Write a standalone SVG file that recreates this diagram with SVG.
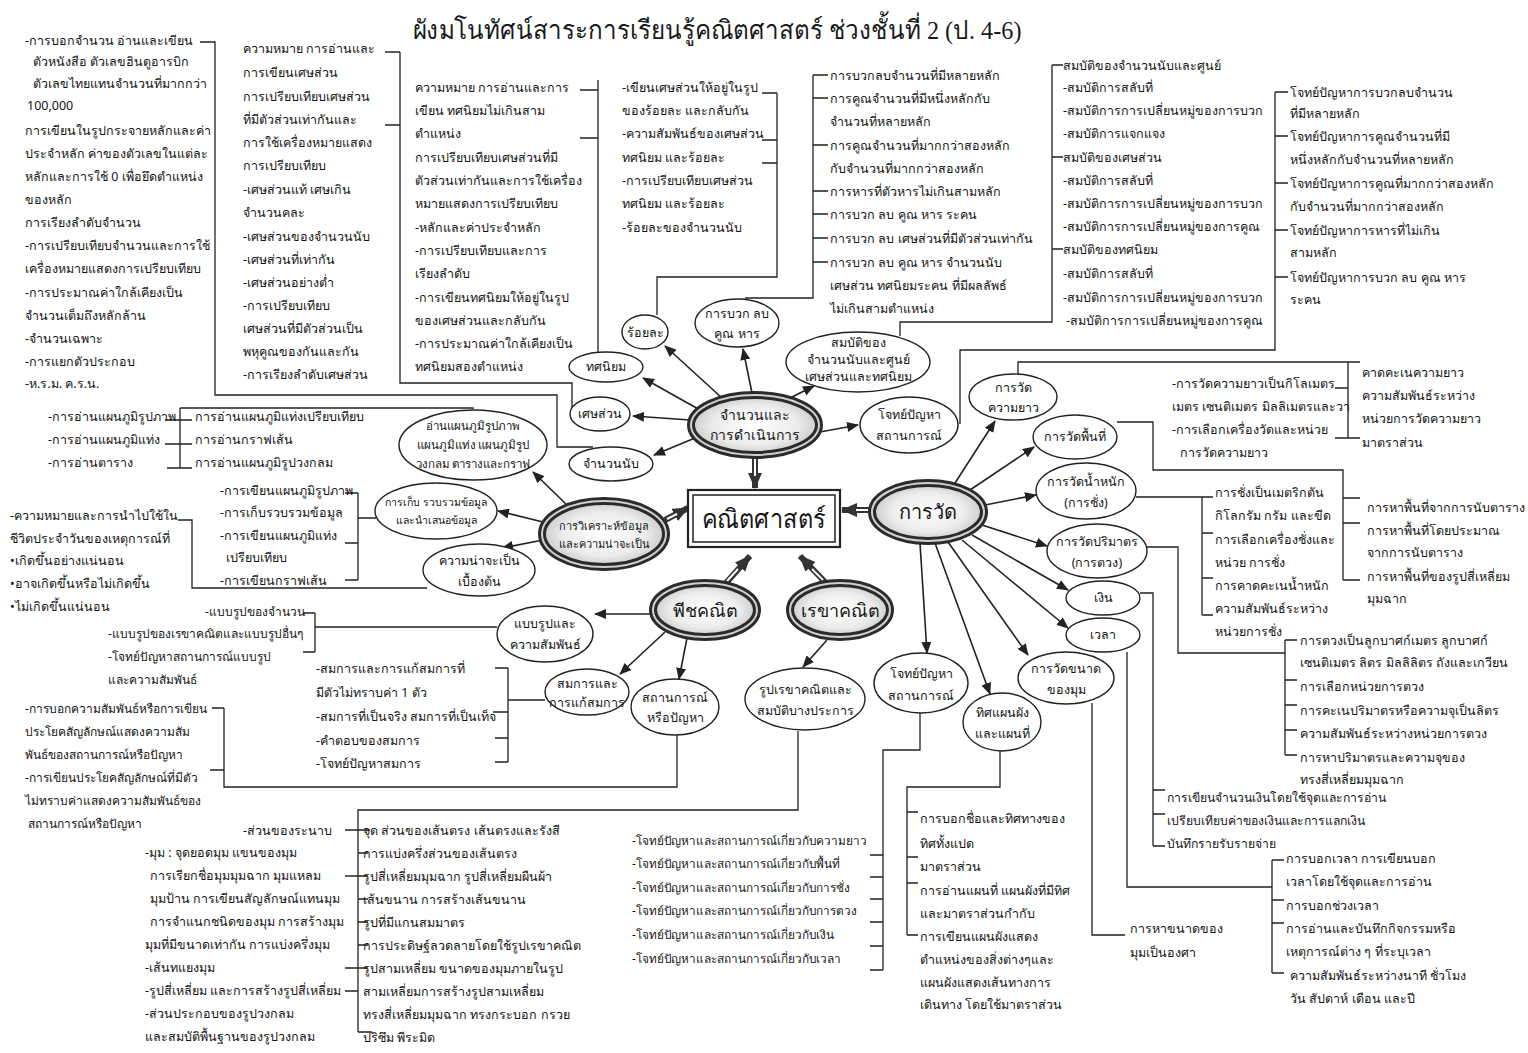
<svg xmlns="http://www.w3.org/2000/svg" width="1528" height="1053" viewBox="0 0 1528 1053">
<defs>
<style>
.t{font-family:"Noto Sans","DejaVu Sans",sans-serif;font-size:12.5px;fill:#161616}
.c{text-anchor:middle}
.ttl{font-family:"Liberation Serif","DejaVu Serif",serif;font-size:26px;fill:#1a1a1a;text-anchor:middle}
.ln{fill:none;stroke:#222;stroke-width:1.3}
.ar{fill:none;stroke:#222;stroke-width:1.6;marker-end:url(#ah)}
.el{fill:#fff;stroke:#222;stroke-width:1.4}
.mo{fill:url(#mg);stroke:#2b2b2b;stroke-width:8}
.mi{fill:none;stroke:#d0d0d0;stroke-width:2}
.dbo{fill:none;stroke:#333;stroke-width:6;marker-end:url(#bh)}
.dbi{fill:none;stroke:#fff;stroke-width:2}
</style>
<radialGradient id="mg" cx="0.5" cy="0.5" r="0.6">
<stop offset="0" stop-color="#ffffff"/><stop offset="0.55" stop-color="#ececec"/><stop offset="1" stop-color="#b8b8b8"/>
</radialGradient>
<marker id="ah" viewBox="0 0 12 10" refX="11" refY="5" markerWidth="12" markerHeight="10" markerUnits="userSpaceOnUse" orient="auto"><path d="M0,0 L12,5 L0,10 z" fill="#222"/></marker>
<marker id="bh" viewBox="0 0 16 14" refX="15" refY="7" markerWidth="16" markerHeight="14" markerUnits="userSpaceOnUse" orient="auto"><path d="M0,0 L16,7 L0,14 z" fill="#333"/></marker>
</defs>
<rect width="1528" height="1053" fill="#fff"/>
<text class="ttl" x="717" y="39" textLength="609" lengthAdjust="spacingAndGlyphs">ผังมโนทัศน์สาระการเรียนรู้คณิตศาสตร์ ช่วงชั้นที่ 2 (ป. 4-6)</text>

<g id="connectors">
<path class="ln" d="M200,42 H215 V395 H557 V447 H593"/>
<path class="ln" d="M385,52 H400 M385,125 H400 M400,52 V383 H572 V408"/>
<path class="ln" d="M580,90 H598 M580,138 H598 M598,80 V352"/>
<path class="ln" d="M762,93 H777 M762,140 H777 M762,163 H777 M777,93 V277 H657 V315"/>
<path class="ln" d="M813,75 V298 H745 M813,75 H828 M813,98 H828 M813,145 H828 M813,191 H828 M813,214 H828 M813,238 H828 M813,262 H828"/>
<path class="ln" d="M1052,65 H1063 M1052,157 H1063 M1052,249 H1063 M1052,65 V322 H900 V336"/>
<path class="ln" d="M1275,92 H1288 M1275,136 H1288 M1275,183 H1288 M1275,230 H1288 M1275,277 H1288 M1275,92 V350 H960 V424"/>
<path class="ln" d="M165,420 H192 M165,444 H192 M167,468 H192 M180,408 V468 M180,408 H473 V409"/>
<path class="ln" d="M345,493 H358 M345,543 H358 M345,580 H358 M358,493 V580 M358,518 H376"/>
<path class="ln" d="M178,520 H192 V588 H427"/>
<path class="ln" d="M303,613 H315 M303,652 H315 M315,613 V652 M315,627 H497"/>
<path class="ln" d="M495,668 H508 M493,712 H508 M495,738 H508 M495,762 H508 M508,668 V762 M508,700 H545"/>
<path class="ln" d="M212,708 H224 M210,770 H224 M224,708 V787 H677 V735"/>
<path class="ln" d="M345,830 H370 M358,853 H368 M345,876 H368 M358,899 H368 M358,922 H368 M358,945 H368 M345,968 H368 M345,991 H358 M358,1032 H372 M358,1032 V810 H798 V731"/>
<path class="ln" d="M870,855 H883 M870,877 H883 M870,899 H883 M870,922 H883 M870,946 H883 M870,970 H883 M883,970 V750 H920 V713"/>
<path class="ln" d="M907,935 V787 H1000 V751 M907,812 H918 M907,857 H918 M907,883 H918 M907,935 H918"/>
<path class="ln" d="M1092,703 V935 H1125"/>
<path class="ln" d="M1140,593 H1153 V846 M1153,790 H1165 M1153,814 H1165 M1153,846 H1165"/>
<path class="ln" d="M1127,652 V887 H1272 M1272,860 V973 M1272,860 H1284 M1272,900 H1284 M1272,923 H1284 M1272,973 H1284"/>
<path class="ln" d="M1146,547 H1178 V653 H1285 M1285,640 V755 M1285,640 H1297 M1285,680 H1297 M1285,705 H1297 M1285,730 H1297 M1285,755 H1297"/>
<path class="ln" d="M1136,497 H1213 M1202,497 V615 M1202,533 H1213 M1202,578 H1213 M1202,615 H1213"/>
<path class="ln" d="M1117,422 H1153 V470 H1343 V580 M1343,498 H1360 M1343,523 H1360 M1343,580 H1360"/>
<path class="ln" d="M1018,375 V362 H1360 M1348,362 V438 M1335,388 H1348 M1335,438 H1360"/>

<path class="ar" d="M722,398 L665,346"/>
<path class="ar" d="M752,393 L743,349"/>
<path class="ar" d="M700,410 L643,378"/>
<path class="ar" d="M690,420 L633,416"/>
<path class="ar" d="M695,438 L654,455"/>
<path class="ar" d="M790,398 L814,386"/>
<path class="ar" d="M820,432 L858,425"/>
<path class="ar" d="M955,483 L995,421"/>
<path class="ar" d="M970,490 L1034,447"/>
<path class="ar" d="M985,505 L1036,495"/>
<path class="ar" d="M982,525 L1047,546"/>
<path class="ar" d="M972,535 L1068,590"/>
<path class="ar" d="M962,540 L1068,628"/>
<path class="ar" d="M948,542 L1028,655"/>
<path class="ar" d="M935,543 L990,694"/>
<path class="ar" d="M920,543 L927,653"/>
<path class="ar" d="M567,505 L533,472"/>
<path class="ar" d="M543,522 L498,511"/>
<path class="ar" d="M543,540 L502,548"/>
<path class="ar" d="M650,614 L595,614"/>
<path class="ar" d="M665,632 L620,674"/>
<path class="ar" d="M687,638 L679,679"/>
<path class="ar" d="M827,640 L803,667"/>

<path class="dbo" d="M755,457 V488"/><path class="dbi" d="M755,459 V476"/>
<path class="dbo" d="M870,510 H842"/><path class="dbi" d="M868,510 H856"/>
<path class="dbo" d="M665,520 L688,508"/><path class="dbi" d="M667,519 L677,514"/>
<path class="dbo" d="M726,583 L750,556"/><path class="dbi" d="M727,581 L738,569"/>
<path class="dbo" d="M825,582 L800,556"/><path class="dbi" d="M823,580 L812,569"/>
</g>

<g id="center">
<rect x="688" y="490" width="152" height="57" fill="#fff" stroke="#222" stroke-width="2.2"/>
<rect x="693" y="495" width="142" height="47" fill="#fff" stroke="#222" stroke-width="1.5"/>
<text class="t c" x="764" y="528" style="font-size:26px" textLength="124" lengthAdjust="spacingAndGlyphs">คณิตศาสตร์</text>
</g>

<g id="main-number"><ellipse class="mo" cx="755" cy="425" rx="64" ry="30"/><ellipse class="mi" cx="755" cy="425" rx="64" ry="30"/>
<text class="t c" x="755" y="420" style="font-size:14px">จำนวนและ</text><text class="t c" x="755" y="440" style="font-size:14px">การดำเนินการ</text></g>
<g id="main-measure"><ellipse class="mo" cx="928" cy="512" rx="56" ry="29"/><ellipse class="mi" cx="928" cy="512" rx="56" ry="29"/>
<text class="t c" x="928" y="519" style="font-size:20px">การวัด</text></g>
<g id="main-data"><ellipse class="mo" cx="604" cy="534" rx="62" ry="33"/><ellipse class="mi" cx="604" cy="534" rx="62" ry="33"/>
<text class="t c" x="604" y="530" style="font-size:11px">การวิเคราะห์ข้อมูล</text><text class="t c" x="604" y="548" style="font-size:11px">และความน่าจะเป็น</text></g>
<g id="main-algebra"><ellipse class="mo" cx="705" cy="610" rx="52" ry="27"/><ellipse class="mi" cx="705" cy="610" rx="52" ry="27"/>
<text class="t c" x="705" y="617" style="font-size:18px">พีชคณิต</text></g>
<g id="main-geometry"><ellipse class="mo" cx="840" cy="610" rx="50" ry="27"/><ellipse class="mi" cx="840" cy="610" rx="50" ry="27"/>
<text class="t c" x="840" y="617" style="font-size:18px">เรขาคณิต</text></g>

<g id="n-percent"><ellipse class="el" cx="645" cy="332" rx="23" ry="17"/><text class="t c" x="645" y="337">ร้อยละ</text></g>
<g id="n-ops"><ellipse class="el" cx="737" cy="323" rx="42" ry="24"/><text class="t c" x="737" y="318">การบวก ลบ</text><text class="t c" x="737" y="338">คูณ หาร</text></g>
<g id="n-decimal"><ellipse class="el" cx="606" cy="367" rx="37" ry="15"/><text class="t c" x="606" y="371">ทศนิยม</text></g>
<g id="n-fraction"><ellipse class="el" cx="600" cy="414" rx="30" ry="17"/><text class="t c" x="600" y="418">เศษส่วน</text></g>
<g id="n-counting"><ellipse class="el" cx="611" cy="464" rx="42" ry="17"/><text class="t c" x="611" y="468">จำนวนนับ</text></g>
<g id="n-properties"><ellipse class="el" cx="858" cy="362" rx="72" ry="30"/><text class="t c" x="858" y="347">สมบัติของ</text><text class="t c" x="858" y="364">จำนวนนับและศูนย์</text><text class="t c" x="858" y="381">เศษส่วนและทศนิยม</text></g>
<g id="n-problem1"><ellipse class="el" cx="909" cy="425" rx="49" ry="28"/><text class="t c" x="909" y="419">โจทย์ปัญหา</text><text class="t c" x="909" y="440">สถานการณ์</text></g>
<g id="n-chart"><ellipse class="el" cx="473" cy="445" rx="74" ry="35"/><text class="t c" x="473" y="430" style="font-size:11.5px">อ่านแผนภูมิรูปภาพ</text><text class="t c" x="473" y="449" style="font-size:11.5px">แผนภูมิแท่ง แผนภูมิรูป</text><text class="t c" x="473" y="468" style="font-size:11.5px">วงกลม ตารางและกราฟ</text></g>
<g id="n-collect"><ellipse class="el" cx="436" cy="511" rx="61" ry="28"/><text class="t c" x="436" y="506" style="font-size:10.5px">การเก็บ รวบรวมข้อมูล</text><text class="t c" x="436" y="524" style="font-size:10.5px">และนำเสนอข้อมูล</text></g>
<g id="n-prob"><ellipse class="el" cx="479" cy="570" rx="56" ry="26"/><text class="t c" x="479" y="565">ความน่าจะเป็น</text><text class="t c" x="479" y="586">เบื้องต้น</text></g>
<g id="n-pattern"><ellipse class="el" cx="545" cy="634" rx="48" ry="28"/><text class="t c" x="545" y="628">แบบรูปและ</text><text class="t c" x="545" y="649">ความสัมพันธ์</text></g>
<g id="n-equation"><ellipse class="el" cx="587" cy="692" rx="42" ry="23"/><text class="t c" x="587" y="688">สมการและ</text><text class="t c" x="587" y="707">การแก้สมการ</text></g>
<g id="n-situation"><ellipse class="el" cx="675" cy="707" rx="44" ry="28"/><text class="t c" x="675" y="702">สถานการณ์</text><text class="t c" x="675" y="722">หรือปัญหา</text></g>
<g id="n-shapes"><ellipse class="el" cx="805" cy="699" rx="60" ry="31"/><text class="t c" x="805" y="694">รูปเรขาคณิตและ</text><text class="t c" x="805" y="715">สมบัติบางประการ</text></g>
<g id="n-length"><ellipse class="el" cx="1013" cy="397" rx="44" ry="23"/><text class="t c" x="1013" y="392">การวัด</text><text class="t c" x="1013" y="412">ความยาว</text></g>
<g id="n-area"><ellipse class="el" cx="1075" cy="437" rx="42" ry="22"/><text class="t c" x="1075" y="441">การวัดพื้นที่</text></g>
<g id="n-weight"><ellipse class="el" cx="1086" cy="491" rx="50" ry="28"/><text class="t c" x="1086" y="486">การวัดน้ำหนัก</text><text class="t c" x="1086" y="507">(การชั่ง)</text></g>
<g id="n-volume"><ellipse class="el" cx="1097" cy="551" rx="50" ry="27"/><text class="t c" x="1097" y="546">การวัดปริมาตร</text><text class="t c" x="1097" y="567">(การตวง)</text></g>
<g id="n-money"><ellipse class="el" cx="1103" cy="598" rx="37" ry="17"/><text class="t c" x="1103" y="602">เงิน</text></g>
<g id="n-time"><ellipse class="el" cx="1103" cy="635" rx="37" ry="17"/><text class="t c" x="1103" y="639">เวลา</text></g>
<g id="n-angle"><ellipse class="el" cx="1066" cy="678" rx="48" ry="26"/><text class="t c" x="1066" y="673">การวัดขนาด</text><text class="t c" x="1066" y="694">ของมุม</text></g>
<g id="n-problem2"><ellipse class="el" cx="921" cy="683" rx="47" ry="30"/><text class="t c" x="921" y="678">โจทย์ปัญหา</text><text class="t c" x="921" y="700">สถานการณ์</text></g>
<g id="n-map"><ellipse class="el" cx="1002" cy="722" rx="39" ry="29"/><text class="t c" x="1002" y="717">ทิศแผนผัง</text><text class="t c" x="1002" y="738">และแผนที่</text></g>

<g id="b1"><text class="t">
<tspan x="25" y="45">-การบอกจำนวน อ่านและเขียน</tspan>
<tspan x="33" y="66">ตัวหนังสือ ตัวเลขฮินดูอารบิก</tspan>
<tspan x="33" y="88">ตัวเลขไทยแทนจำนวนที่มากกว่า</tspan>
<tspan x="27" y="110">100,000</tspan>
<tspan x="25" y="135">การเขียนในรูปกระจายหลักและค่า</tspan>
<tspan x="25" y="158">ประจำหลัก ค่าของตัวเลขในแต่ละ</tspan>
<tspan x="25" y="181">หลักและการใช้ 0 เพื่อยึดตำแหน่ง</tspan>
<tspan x="25" y="204">ของหลัก</tspan>
<tspan x="25" y="227">การเรียงลำดับจำนวน</tspan>
<tspan x="25" y="250">-การเปรียบเทียบจำนวนและการใช้</tspan>
<tspan x="25" y="273">เครื่องหมายแสดงการเปรียบเทียบ</tspan>
<tspan x="25" y="297">-การประมาณค่าใกล้เคียงเป็น</tspan>
<tspan x="25" y="320">จำนวนเต็มถึงหลักล้าน</tspan>
<tspan x="25" y="343">-จำนวนเฉพาะ</tspan>
<tspan x="25" y="366">-การแยกตัวประกอบ</tspan>
<tspan x="25" y="388">-ห.ร.ม. ค.ร.น.</tspan>
</text></g>

<g id="b2"><text class="t">
<tspan x="243" y="53">ความหมาย การอ่านและ</tspan>
<tspan x="243" y="77">การเขียนเศษส่วน</tspan>
<tspan x="243" y="101">การเปรียบเทียบเศษส่วน</tspan>
<tspan x="243" y="124">ที่มีตัวส่วนเท่ากันและ</tspan>
<tspan x="243" y="147">การใช้เครื่องหมายแสดง</tspan>
<tspan x="243" y="170">การเปรียบเทียบ</tspan>
<tspan x="243" y="194">-เศษส่วนแท้ เศษเกิน</tspan>
<tspan x="243" y="217">จำนวนคละ</tspan>
<tspan x="243" y="241">-เศษส่วนของจำนวนนับ</tspan>
<tspan x="243" y="264">-เศษส่วนที่เท่ากัน</tspan>
<tspan x="243" y="287">-เศษส่วนอย่างต่ำ</tspan>
<tspan x="243" y="310">-การเปรียบเทียบ</tspan>
<tspan x="243" y="333">เศษส่วนที่มีตัวส่วนเป็น</tspan>
<tspan x="243" y="356">พหุคูณของกันและกัน</tspan>
<tspan x="243" y="379">-การเรียงลำดับเศษส่วน</tspan>
</text></g>

<g id="b3"><text class="t">
<tspan x="415" y="92">ความหมาย การอ่านและการ</tspan>
<tspan x="415" y="115">เขียน ทศนิยมไม่เกินสาม</tspan>
<tspan x="415" y="138">ตำแหน่ง</tspan>
<tspan x="415" y="162">การเปรียบเทียบเศษส่วนที่มี</tspan>
<tspan x="415" y="185">ตัวส่วนเท่ากันและการใช้เครื่อง</tspan>
<tspan x="415" y="208">หมายแสดงการเปรียบเทียบ</tspan>
<tspan x="415" y="232">-หลักและค่าประจำหลัก</tspan>
<tspan x="415" y="255">-การเปรียบเทียบและการ</tspan>
<tspan x="415" y="278">เรียงลำดับ</tspan>
<tspan x="415" y="302">-การเขียนทศนิยมให้อยู่ในรูป</tspan>
<tspan x="415" y="325">ของเศษส่วนและกลับกัน</tspan>
<tspan x="415" y="348">-การประมาณค่าใกล้เคียงเป็น</tspan>
<tspan x="415" y="371">ทศนิยมสองตำแหน่ง</tspan>
</text></g>

<g id="b4"><text class="t">
<tspan x="622" y="92">-เขียนเศษส่วนให้อยู่ในรูป</tspan>
<tspan x="622" y="115">ของร้อยละ และกลับกัน</tspan>
<tspan x="622" y="138">-ความสัมพันธ์ของเศษส่วน</tspan>
<tspan x="622" y="162">ทศนิยม และร้อยละ</tspan>
<tspan x="622" y="185">-การเปรียบเทียบเศษส่วน</tspan>
<tspan x="622" y="208">ทศนิยม และร้อยละ</tspan>
<tspan x="622" y="232">-ร้อยละของจำนวนนับ</tspan>
</text></g>

<g id="b5"><text class="t">
<tspan x="830" y="80">การบวกลบจำนวนที่มีหลายหลัก</tspan>
<tspan x="830" y="103">การคูณจำนวนที่มีหนึ่งหลักกับ</tspan>
<tspan x="830" y="126">จำนวนที่หลายหลัก</tspan>
<tspan x="830" y="150">การคูณจำนวนที่มากกว่าสองหลัก</tspan>
<tspan x="830" y="173">กับจำนวนที่มากกว่าสองหลัก</tspan>
<tspan x="830" y="196">การหารที่ตัวหารไม่เกินสามหลัก</tspan>
<tspan x="830" y="219">การบวก ลบ คูณ หาร ระคน</tspan>
<tspan x="830" y="243">การบวก ลบ เศษส่วนที่มีตัวส่วนเท่ากัน</tspan>
<tspan x="830" y="267">การบวก ลบ คูณ หาร จำนวนนับ</tspan>
<tspan x="830" y="290">เศษส่วน ทศนิยมระคน ที่มีผลลัพธ์</tspan>
<tspan x="830" y="313">ไม่เกินสามตำแหน่ง</tspan>
</text></g>

<g id="b6"><text class="t">
<tspan x="1063" y="70">สมบัติของจำนวนนับและศูนย์</tspan>
<tspan x="1063" y="92">-สมบัติการสลับที่</tspan>
<tspan x="1063" y="115">-สมบัติการการเปลี่ยนหมู่ของการบวก</tspan>
<tspan x="1063" y="138">-สมบัติการแจกแจง</tspan>
<tspan x="1063" y="162">สมบัติของเศษส่วน</tspan>
<tspan x="1063" y="185">-สมบัติการสลับที่</tspan>
<tspan x="1063" y="208">-สมบัติการการเปลี่ยนหมู่ของการบวก</tspan>
<tspan x="1063" y="231">-สมบัติการการเปลี่ยนหมู่ของการคูณ</tspan>
<tspan x="1063" y="254">สมบัติของทศนิยม</tspan>
<tspan x="1063" y="278">-สมบัติการสลับที่</tspan>
<tspan x="1063" y="302">-สมบัติการการเปลี่ยนหมู่ของการบวก</tspan>
<tspan x="1066" y="325">-สมบัติการการเปลี่ยนหมู่ของการคูณ</tspan>
</text></g>

<g id="b7"><text class="t">
<tspan x="1290" y="97">โจทย์ปัญหาการบวกลบจำนวน</tspan>
<tspan x="1290" y="118">ที่มีหลายหลัก</tspan>
<tspan x="1290" y="141">โจทย์ปัญหาการคูณจำนวนที่มี</tspan>
<tspan x="1290" y="164">หนึ่งหลักกับจำนวนที่หลายหลัก</tspan>
<tspan x="1290" y="188">โจทย์ปัญหาการคูณที่มากกว่าสองหลัก</tspan>
<tspan x="1290" y="211">กับจำนวนที่มากกว่าสองหลัก</tspan>
<tspan x="1290" y="235">โจทย์ปัญหาการหารที่ไม่เกิน</tspan>
<tspan x="1290" y="257">สามหลัก</tspan>
<tspan x="1290" y="282">โจทย์ปัญหาการบวก ลบ คูณ หาร</tspan>
<tspan x="1290" y="304">ระคน</tspan>
</text></g>

<g id="b8"><text class="t">
<tspan x="48" y="421">-การอ่านแผนภูมิรูปภาพ</tspan>
<tspan x="48" y="444">-การอ่านแผนภูมิแท่ง</tspan>
<tspan x="48" y="467">-การอ่านตาราง</tspan>
<tspan x="195" y="421">การอ่านแผนภูมิแท่งเปรียบเทียบ</tspan>
<tspan x="195" y="444">การอ่านกราฟเส้น</tspan>
<tspan x="195" y="467">การอ่านแผนภูมิรูปวงกลม</tspan>
</text></g>

<g id="b9"><text class="t">
<tspan x="220" y="495">-การเขียนแผนภูมิรูปภาพ</tspan>
<tspan x="220" y="517">-การเก็บรวบรวมข้อมูล</tspan>
<tspan x="220" y="540">-การเขียนแผนภูมิแท่ง</tspan>
<tspan x="226" y="562">เปรียบเทียบ</tspan>
<tspan x="220" y="585">-การเขียนกราฟเส้น</tspan>
</text></g>

<g id="b10"><text class="t">
<tspan x="10" y="520">-ความหมายและการนำไปใช้ใน</tspan>
<tspan x="10" y="543">ชีวิตประจำวันของเหตุการณ์ที่</tspan>
<tspan x="10" y="565">•เกิดขึ้นอย่างแน่นอน</tspan>
<tspan x="10" y="588">•อาจเกิดขึ้นหรือไม่เกิดขึ้น</tspan>
<tspan x="10" y="611">•ไม่เกิดขึ้นแน่นอน</tspan>
</text></g>

<g id="b11"><text class="t" style="font-size:12px">
<tspan x="205" y="616">-แบบรูปของจำนวน</tspan>
<tspan x="108" y="638">-แบบรูปของเรขาคณิตและแบบรูปอื่นๆ</tspan>
<tspan x="108" y="661">-โจทย์ปัญหาสถานการณ์แบบรูป</tspan>
<tspan x="108" y="684">และความสัมพันธ์</tspan>
</text></g>

<g id="b12"><text class="t">
<tspan x="316" y="673">-สมการและการแก้สมการที่</tspan>
<tspan x="316" y="697">มีตัวไม่ทราบค่า 1 ตัว</tspan>
<tspan x="316" y="721">-สมการที่เป็นจริง สมการที่เป็นเท็จ</tspan>
<tspan x="316" y="745">-คำตอบของสมการ</tspan>
<tspan x="316" y="768">-โจทย์ปัญหาสมการ</tspan>
</text></g>

<g id="b13"><text class="t" style="font-size:12px">
<tspan x="25" y="713">-การบอกความสัมพันธ์หรือการเขียน</tspan>
<tspan x="25" y="736">ประโยคสัญลักษณ์แสดงความสัม</tspan>
<tspan x="25" y="759">พันธ์ของสถานการณ์หรือปัญหา</tspan>
<tspan x="25" y="782">-การเขียนประโยคสัญลักษณ์ที่มีตัว</tspan>
<tspan x="25" y="805">ไม่ทราบค่าแสดงความสัมพันธ์ของ</tspan>
<tspan x="28" y="828">สถานการณ์หรือปัญหา</tspan>
</text></g>

<g id="b14"><text class="t">
<tspan x="243" y="835">-ส่วนของระนาบ</tspan>
<tspan x="145" y="857">-มุม : จุดยอดมุม แขนของมุม</tspan>
<tspan x="150" y="880">การเรียกชื่อมุมมุมฉาก มุมแหลม</tspan>
<tspan x="150" y="903">มุมป้าน การเขียนสัญลักษณ์แทนมุม</tspan>
<tspan x="150" y="926">การจำแนกชนิดของมุม การสร้างมุม</tspan>
<tspan x="145" y="949">มุมที่มีขนาดเท่ากัน การแบ่งครึ่งมุม</tspan>
<tspan x="145" y="972">-เส้นทแยงมุม</tspan>
<tspan x="145" y="995">-รูปสี่เหลี่ยม และการสร้างรูปสี่เหลี่ยม</tspan>
<tspan x="145" y="1018">-ส่วนประกอบของรูปวงกลม</tspan>
<tspan x="145" y="1041">และสมบัติพื้นฐานของรูปวงกลม</tspan>
</text></g>

<g id="b15"><text class="t">
<tspan x="363" y="835">จุด ส่วนของเส้นตรง เส้นตรงและรังสี</tspan>
<tspan x="363" y="858">การแบ่งครึ่งส่วนของเส้นตรง</tspan>
<tspan x="363" y="881">รูปสี่เหลี่ยมมุมฉาก รูปสี่เหลี่ยมผืนผ้า</tspan>
<tspan x="363" y="904">เส้นขนาน การสร้างเส้นขนาน</tspan>
<tspan x="363" y="927">รูปที่มีแกนสมมาตร</tspan>
<tspan x="363" y="950">การประดิษฐ์ลวดลายโดยใช้รูปเรขาคณิต</tspan>
<tspan x="363" y="973">รูปสามเหลี่ยม ขนาดของมุมภายในรูป</tspan>
<tspan x="363" y="996">สามเหลี่ยมการสร้างรูปสามเหลี่ยม</tspan>
<tspan x="363" y="1019">ทรงสี่เหลี่ยมมุมฉาก ทรงกระบอก กรวย</tspan>
<tspan x="363" y="1042">ปริซึม พีระมิด</tspan>
</text></g>

<g id="b16"><text class="t" style="font-size:11.8px">
<tspan x="632" y="845">-โจทย์ปัญหาและสถานการณ์เกี่ยวกับความยาว</tspan>
<tspan x="632" y="868">-โจทย์ปัญหาและสถานการณ์เกี่ยวกับพื้นที่</tspan>
<tspan x="632" y="892">-โจทย์ปัญหาและสถานการณ์เกี่ยวกับการชั่ง</tspan>
<tspan x="632" y="915">-โจทย์ปัญหาและสถานการณ์เกี่ยวกับการตวง</tspan>
<tspan x="632" y="939">-โจทย์ปัญหาและสถานการณ์เกี่ยวกับเงิน</tspan>
<tspan x="632" y="963">-โจทย์ปัญหาและสถานการณ์เกี่ยวกับเวลา</tspan>
</text></g>

<g id="b17"><text class="t">
<tspan x="920" y="823">การบอกชื่อและทิศทางของ</tspan>
<tspan x="920" y="848">ทิศทั้งแปด</tspan>
<tspan x="920" y="871">มาตราส่วน</tspan>
<tspan x="920" y="895">การอ่านแผนที่ แผนผังที่มีทิศ</tspan>
<tspan x="920" y="918">และมาตราส่วนกำกับ</tspan>
<tspan x="920" y="941">การเขียนแผนผังแสดง</tspan>
<tspan x="920" y="964">ตำแหน่งของสิ่งต่างๆและ</tspan>
<tspan x="920" y="987">แผนผังแสดงเส้นทางการ</tspan>
<tspan x="920" y="1009">เดินทาง โดยใช้มาตราส่วน</tspan>
</text></g>

<g id="b18"><text class="t">
<tspan x="1130" y="933">การหาขนาดของ</tspan>
<tspan x="1130" y="957">มุมเป็นองศา</tspan>
</text></g>

<g id="b19"><text class="t" style="font-size:12.2px">
<tspan x="1167" y="802">การเขียนจำนวนเงินโดยใช้จุดและการอ่าน</tspan>
<tspan x="1167" y="825">เปรียบเทียบค่าของเงินและการแลกเงิน</tspan>
<tspan x="1167" y="848">บันทึกรายรับรายจ่าย</tspan>
</text></g>

<g id="b20"><text class="t">
<tspan x="1286" y="863">การบอกเวลา การเขียนบอก</tspan>
<tspan x="1286" y="886">เวลาโดยใช้จุดและการอ่าน</tspan>
<tspan x="1286" y="910">การบอกช่วงเวลา</tspan>
<tspan x="1286" y="933">การอ่านและบันทึกกิจกรรมหรือ</tspan>
<tspan x="1286" y="956">เหตุการณ์ต่าง ๆ ที่ระบุเวลา</tspan>
<tspan x="1290" y="980">ความสัมพันธ์ระหว่างนาที ชั่วโมง</tspan>
<tspan x="1290" y="1003">วัน สัปดาห์ เดือน และปี</tspan>
</text></g>

<g id="b21"><text class="t">
<tspan x="1300" y="645">การตวงเป็นลูกบาศก์เมตร ลูกบาศก์</tspan>
<tspan x="1300" y="667">เซนติเมตร ลิตร มิลลิลิตร ถังและเกวียน</tspan>
<tspan x="1300" y="691">การเลือกหน่วยการตวง</tspan>
<tspan x="1300" y="715">การคะเนปริมาตรหรือความจุเป็นลิตร</tspan>
<tspan x="1300" y="738">ความสัมพันธ์ระหว่างหน่วยการตวง</tspan>
<tspan x="1300" y="762">การหาปริมาตรและความจุของ</tspan>
<tspan x="1300" y="784">ทรงสี่เหลี่ยมมุมฉาก</tspan>
</text></g>

<g id="b22"><text class="t">
<tspan x="1215" y="497">การชั่งเป็นเมตริกตัน</tspan>
<tspan x="1215" y="520">กิโลกรัม กรัม และขีด</tspan>
<tspan x="1215" y="544">การเลือกเครื่องชั่งและ</tspan>
<tspan x="1215" y="567">หน่วย การชั่ง</tspan>
<tspan x="1215" y="590">การคาดคะเนน้ำหนัก</tspan>
<tspan x="1215" y="613">ความสัมพันธ์ระหว่าง</tspan>
<tspan x="1215" y="636">หน่วยการชั่ง</tspan>
</text></g>

<g id="b23"><text class="t">
<tspan x="1367" y="512">การหาพื้นที่จากการนับตาราง</tspan>
<tspan x="1367" y="535">การหาพื้นที่โดยประมาณ</tspan>
<tspan x="1367" y="557">จากการนับตาราง</tspan>
<tspan x="1367" y="581">การหาพื้นที่ของรูปสี่เหลี่ยม</tspan>
<tspan x="1367" y="603">มุมฉาก</tspan>
</text></g>

<g id="b24"><text class="t">
<tspan x="1172" y="388">-การวัดความยาวเป็นกิโลเมตร</tspan>
<tspan x="1172" y="411">เมตร เซนติเมตร มิลลิเมตรและวา</tspan>
<tspan x="1172" y="434">-การเลือกเครื่องวัดและหน่วย</tspan>
<tspan x="1180" y="457">การวัดความยาว</tspan>
<tspan x="1362" y="377">คาดคะเนความยาว</tspan>
<tspan x="1362" y="400">ความสัมพันธ์ระหว่าง</tspan>
<tspan x="1362" y="423">หน่วยการวัดความยาว</tspan>
<tspan x="1362" y="447">มาตราส่วน</tspan>
</text></g>
</svg>
